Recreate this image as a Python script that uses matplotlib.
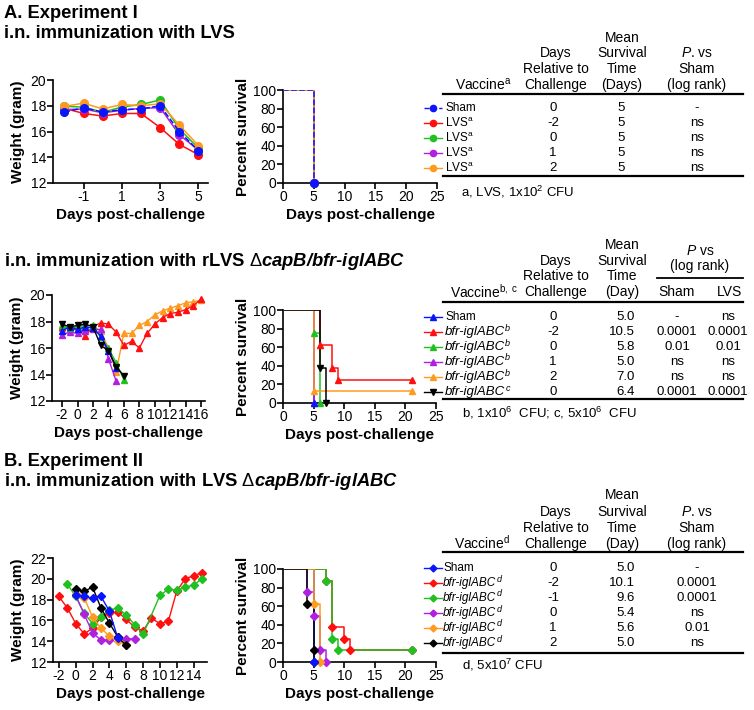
import matplotlib.pyplot as plt
from matplotlib.lines import Line2D

plt.rcParams['font.family'] = ['Liberation Sans', 'DejaVu Sans']
plt.rcParams['mathtext.fontset'] = 'custom'
plt.rcParams['mathtext.rm'] = 'Liberation Sans'
plt.rcParams['mathtext.it'] = 'Liberation Sans:italic'
plt.rcParams['mathtext.bf'] = 'Liberation Sans:bold'
plt.rcParams['mathtext.sf'] = 'Liberation Sans:bold:italic'
plt.rcParams['axes.unicode_minus'] = False

W, H = 754, 710
BLUE, RED, GREEN, PURPLE, ORANGE, BLACK = '#0a14ff', '#ff1010', '#20c020', '#b020e0', '#ff9a20', '#000000'
colors6 = [BLUE, RED, GREEN, PURPLE, ORANGE, BLACK]

# ---------------- data: experiment I, LVS ----------------
days_a = [-2, -1, 0, 1, 2, 3, 4, 5]
wa_sham = [17.5, 17.85, 17.5, 17.7, 17.75, 18.0, 16.0, 14.5]
wa_m2 = [17.8, 17.4, 17.2, 17.4, 17.4, 16.3, 15.0, 14.2]
wa_0 = [17.95, 17.9, 17.5, 17.9, 18.1, 18.45, 16.2, 14.7]
wa_1 = [17.7, 17.75, 17.45, 17.65, 17.8, 17.85, 15.75, 14.55]
wa_2 = [17.95, 18.2, 17.75, 18.1, 18.0, 18.15, 16.5, 14.9]
sa_times = [[5], [5], [5], [5], [5]]
sa_surv = [[0], [0], [0], [0], [0]]
tab_a_names = ['Sham', 'LVS$^{\\mathrm{a}}$', 'LVS$^{\\mathrm{a}}$', 'LVS$^{\\mathrm{a}}$', 'LVS$^{\\mathrm{a}}$']
tab_a_days = ['0', '-2', '0', '1', '2']
tab_a_mst = ['5', '5', '5', '5', '5']
tab_a_p = ['-', 'ns', 'ns', 'ns', 'ns']

# ---------------- data: experiment I, rLVS capB/bfr-iglABC ----------------
days_b_long = list(range(-2, 17))
days_b_short = list(range(-2, 6))
days_b_six = list(range(-2, 7))
wb_sham = [17.3, 17.6, 17.4, 17.6, 17.5, 16.9, 15.8, 14.5]
wb_m2 = [17.6, 17.4, 17.4, 16.9, 17.6, 17.9, 17.8, 17.2, 16.2, 16.5, 16.0, 17.1,
         17.8, 18.3, 18.6, 18.7, 18.9, 19.2, 19.7]
wb_0 = [17.7, 17.5, 17.6, 17.7, 17.7, 16.8, 16.0, 14.9, 13.6]
wb_1 = [17.0, 17.2, 17.1, 17.3, 17.4, 17.4, 15.2, 13.5]
wb_2 = [17.5, 17.6, 17.5, 17.5, 17.6, 17.3, 16.0, 14.2, 17.1, 17.1, 17.7, 18.0,
        18.5, 18.8, 19.0, 19.2, 19.4, 19.5, 19.6]
wb_0c = [17.8, 17.6, 17.7, 17.8, 17.6, 16.2, 15.8, 14.6, 13.9]
sb_times = [[5], [6, 8, 9, 21], [5, 6], [5], [5, 21], [6, 7]]
sb_surv = [[0], [62.5, 37.5, 25, 25], [75, 0], [0], [12.5, 12.5], [37.5, 0]]
tab_b_names = ['Sham'] + ['bfr-iglABC'] * 5
tab_b_sups = ['', 'b', 'b', 'b', 'b', 'c']
tab_b_days = ['0', '-2', '0', '1', '2', '0']
tab_b_mst = ['5.0', '10.5', '5.8', '5.0', '7.0', '6.4']
tab_b_psham = ['-', '0.0001', '0.01', 'ns', 'ns', '0.0001']
tab_b_plvs = ['ns', '0.0001', '0.01', 'ns', 'ns', '0.0001']

# ---------------- data: experiment II ----------------
dc_m2 = list(range(-2, 16))
wc_m2 = [18.3, 17.2, 15.7, 14.7, 15.25, 16.3, 16.7, 16.8, 16.1, 15.35, 15.0, 16.2,
         15.7, 15.9, 18.8, 20.0, 20.3, 20.6]
dc_m1 = [-1, 0, 1, 2, 3, 4, 5, 6, 7, 8, 10, 11, 12, 13, 14, 15]
wc_m1 = [19.5, 18.3, 16.7, 15.7, 16.3, 17.0, 17.2, 16.5, 15.6, 14.65, 18.4, 19.0,
         18.9, 19.2, 19.4, 20.0]
dc_sham = [0, 1, 2, 3, 4, 5]
wc_sham = [18.4, 18.3, 18.15, 18.3, 16.9, 14.3]
dc_0 = [0, 1, 2, 3, 4, 5, 6, 7]
wc_0 = [18.4, 16.6, 14.8, 14.1, 14.1, 14.4, 14.25, 14.2]
dc_1 = [0, 1, 2, 3, 4, 5, 6]
wc_1 = [18.5, 18.2, 16.3, 15.25, 14.5, 14.0, 13.6]
dc_2 = [0, 1, 2, 3, 4, 5, 6]
wc_2 = [19.0, 18.8, 19.2, 17.2, 15.75, 14.4, 13.6]
sc_times = [[5], [7, 8, 10, 11, 21], [7, 8, 9, 21], [4, 5, 6, 7], [5, 6], [4, 5, 5]]
sc_surv = [[0], [87.5, 37.5, 25, 12.5, 12.5], [87.5, 25, 12.5, 12.5],
           [75, 50, 12.5, 0], [62.5, 0], [62.5, 12.5, 0]]
tab_c_names = ['Sham'] + ['bfr-iglABC'] * 5
tab_c_sups = ['', 'd', 'd', 'd', 'd', 'd']
tab_c_days = ['0', '-2', '-1', '0', '1', '2']
tab_c_mst = ['5.0', '10.1', '9.6', '5.4', '5.6', '5.0']
tab_c_p = ['-', '0.0001', '0.0001', 'ns', '0.01', 'ns']

fig = plt.figure(figsize=(W / 100, H / 100), dpi=100)
renderer = fig.canvas.get_renderer()


def px_axes(x0, x1, y_top, y_bot):
    ax = fig.add_axes([x0 / W, 1 - y_bot / H, (x1 - x0) / W, (y_bot - y_top) / H])
    ax.spines['top'].set_visible(False)
    ax.spines['right'].set_visible(False)
    for s in ['left', 'bottom']:
        ax.spines[s].set_linewidth(1.2)
    ax.tick_params(direction='out', length=4, width=1.2, labelsize=10, pad=1)
    ax.set_facecolor('none')
    return ax


def ftext(x, y, s, **kw):
    kw.setdefault('va', 'center')
    kw.setdefault('fontsize', 10)
    return fig.text(x / W, 1 - y / H, s, **kw)


def hline(x0, x1, y, lw=1.6):
    fig.add_artist(Line2D([x0 / W, x1 / W], [1 - y / H, 1 - y / H], color='black', lw=lw))


def legend_mark(x, y, color, marker, ms, ls='-'):
    fig.add_artist(Line2D([(x - 9) / W, (x + 9) / W], [1 - y / H, 1 - y / H],
                          color=color, lw=1, ls=ls))
    fig.add_artist(Line2D([x / W], [1 - y / H], color=color, marker=marker, ms=ms, lw=0))


def name_with_sup(x, y, name, sup, size, italic):
    t = ftext(x, y, name, fontsize=size, style='italic' if italic else 'normal')
    if sup:
        bb = t.get_window_extent(renderer)
        ftext(bb.x1, y - 4, sup, fontsize=6.5, style='italic')


def survival(ax, times, surv, cols, markers, ms, styles=None):
    n = len(times)
    for i in range(n):
        ls = styles[i] if styles else '-'
        xs = [0] + times[i]
        ys = [100] + surv[i]
        ax.step(xs, ys, where='post', color=cols[i], lw=1.1, ls=ls, zorder=3 + (ls != '-'))
        ax.plot(times[i], surv[i], ls='none', marker=markers[i], ms=ms, color=cols[i],
                zorder=6 if i == 0 else 5 + i * 0.01, clip_on=False)
    ax.set_xlim(0, 25)
    ax.set_ylim(0, 100)
    ax.set_xticks([0, 5, 10, 15, 20, 25])
    ax.set_yticks([0, 20, 40, 60, 80, 100])
    ax.set_ylabel('Percent survival', fontsize=11, fontweight='bold', labelpad=2)
    ax.set_xlabel('Days post-challenge', fontsize=11, fontweight='bold', labelpad=3)


TITLE = 13.2

# ================= Panel A =================
ftext(4, 13, 'A. Experiment I', fontsize=TITLE, fontweight='bold')
ftext(4, 33, 'i.n. immunization with LVS', fontsize=TITLE, fontweight='bold')

ax = px_axes(53, 208, 80, 183)
a_groups = [wa_sham, wa_m2, wa_0, wa_1, wa_2]
a_cols = [BLUE, RED, GREEN, PURPLE, ORANGE]
for k in [1, 3, 2, 4, 0]:
    ax.plot(days_a, a_groups[k], color=a_cols[k], lw=1.1, marker='o', ms=5.5,
            ls='--' if k == 0 else '-', clip_on=False, zorder=3 + (k == 0))
ax.set_xlim(-2.6, 5.5)
ax.set_ylim(12, 20)
ax.set_xticks([-1, 1, 3, 5])
ax.set_yticks([12, 14, 16, 18, 20])
ax.set_ylabel('Weight (gram)', fontsize=11, fontweight='bold', labelpad=4)
ax.set_xlabel('Days post-challenge', fontsize=11, fontweight='bold', labelpad=3)

ax = px_axes(283, 437, 90, 183)
survival(ax, sa_times, sa_surv, [BLUE, RED, GREEN, PURPLE, ORANGE], ['o'] * 5, 5.5,
         styles=['--', '-', '-', '-', '-'])

# table A
ftext(622, 38, 'Mean', ha='center')
for j, (a, b, c) in enumerate([('Days', 'Survival', '$\\mathit{P}$. vs'),
                               ('Relative to', 'Time', 'Sham'),
                               ('Challenge', '(Days)', '(log rank)')]):
    yy = 53 + 16 * j
    ftext(556, yy, a, ha='center')
    ftext(622, yy, b, ha='center')
    ftext(697, yy, c, ha='center')
ftext(512, 85, 'Vaccine$^{\\mathrm{a}}$', ha='right')
hline(443, 743, 94)
hline(443, 743, 176)
for i in range(5):
    yy = 108 + 15 * i
    legend_mark(433, yy, a_cols[i], 'o', 4.5, ls='--' if i == 0 else '-')
    ftext(445, yy, tab_a_names[i], fontsize=8.5)
    ftext(553, yy, tab_a_days[i], ha='center', fontsize=9.5)
    ftext(621, yy, tab_a_mst[i], ha='center', fontsize=9.5)
    ftext(697, yy, tab_a_p[i], ha='center', fontsize=9.5)
ftext(461, 192, 'a, LVS, 1x10$^{2}$ CFU', fontsize=9.5)

# ================= Panel A2 =================
ftext(4, 262, 'i.n. immunization with rLVS $\\Delta$$\\mathsf{capB/bfr}$-$\\mathsf{iglABC}$',
      fontsize=TITLE, fontweight='bold')

ax = px_axes(52, 205, 295, 401)
b_data = [(days_b_short, wb_sham), (days_b_long, wb_m2), (days_b_six, wb_0),
          (days_b_short, wb_1), (days_b_long, wb_2), (days_b_six, wb_0c)]
for k in [4, 1, 3, 2, 0, 5]:
    xs, ys = b_data[k]
    ax.plot(xs, ys, color=colors6[k], lw=1.0, marker='v' if k == 5 else '^', ms=5,
            clip_on=False, zorder=3)
ax.set_xlim(-3.3, 16.5)
ax.set_ylim(12, 20)
ax.set_xticks(list(range(-2, 17, 2)))
ax.set_yticks([12, 14, 16, 18, 20])
ax.set_ylabel('Weight (gram)', fontsize=11, fontweight='bold', labelpad=4)
ax.set_xlabel('Days post-challenge', fontsize=11, fontweight='bold', labelpad=3)

ax = px_axes(283, 436, 310, 403)
survival(ax, sb_times, sb_surv, colors6, ['^'] * 5 + ['v'], 5)

# table B
ftext(622, 245, 'Mean', ha='center')
ftext(556, 261, 'Days', ha='center')
ftext(622, 261, 'Survival', ha='center')
ftext(700, 251, '$\\mathit{P}$ vs', ha='center')
ftext(700, 266, '(log rank)', ha='center')
ftext(556, 276, 'Relative to', ha='center')
ftext(622, 276, 'Time', ha='center')
ftext(518, 292, 'Vaccine$^{\\mathrm{b,\\ c}}$', ha='right')
ftext(556, 292, 'Challenge', ha='center')
ftext(622, 292, '(Day)', ha='center')
ftext(677, 292, 'Sham', ha='center')
ftext(730, 292, 'LVS', ha='center')
hline(657, 743, 278, lw=1.3)
hline(443, 743, 302)
hline(443, 743, 399)
for i in range(6):
    yy = 317 + 15 * i
    legend_mark(433, yy, colors6[i], 'v' if i == 5 else '^', 4.5)
    name_with_sup(445, yy, tab_b_names[i], tab_b_sups[i], 8.5 if i == 0 else 9.5, i > 0)
    ftext(553, yy, tab_b_days[i], ha='center', fontsize=9.5)
    ftext(635, yy, tab_b_mst[i], ha='right', fontsize=9.5)
    ftext(677, yy, tab_b_psham[i], ha='center', fontsize=9.5)
    ftext(728, yy, tab_b_plvs[i], ha='center', fontsize=9.5)
ftext(462, 413, 'b, 1x10$^{6}$  CFU; c, 5x10$^{6}$  CFU', fontsize=9.5)

# ================= Panel B =================
ftext(4, 462, 'B. Experiment II', fontsize=TITLE, fontweight='bold')
ftext(4, 482, 'i.n. immunization with LVS $\\Delta$$\\mathsf{capB/bfr}$-$\\mathsf{iglABC}$',
      fontsize=TITLE, fontweight='bold')

ax = px_axes(53, 207, 558, 662)
c_data = [(dc_sham, wc_sham), (dc_m2, wc_m2), (dc_m1, wc_m1),
          (dc_0, wc_0), (dc_1, wc_1), (dc_2, wc_2)]
for k in [1, 2, 3, 4, 5, 0]:
    xs, ys = c_data[k]
    ax.plot(xs, ys, color=colors6[k], lw=1.0, marker='D', ms=4, clip_on=False, zorder=3)
ax.set_xlim(-2.7, 15.6)
ax.set_ylim(12, 22)
ax.set_xticks(list(range(-2, 15, 2)))
ax.set_yticks([12, 14, 16, 18, 20, 22])
ax.set_ylabel('Weight (gram)', fontsize=11, fontweight='bold', labelpad=4)
ax.set_xlabel('Days post-challenge', fontsize=11, fontweight='bold', labelpad=3)

ax = px_axes(283, 436, 569, 662)
survival(ax, sc_times, sc_surv, colors6, ['D'] * 6, 4)

# table C
ftext(622, 495, 'Mean', ha='center')
for j, (a, b, c) in enumerate([('Days', 'Survival', '$\\mathit{P}$. vs'),
                               ('Relative to', 'Time', 'Sham'),
                               ('Challenge', '(Day)', '(log rank)')]):
    yy = 512 + 16 * j
    ftext(556, yy, a, ha='center')
    ftext(622, yy, b, ha='center')
    ftext(697, yy, c, ha='center')
ftext(510, 543, 'Vaccine$^{\\mathrm{d}}$', ha='right')
hline(443, 743, 552)
hline(443, 743, 653)
for i in range(6):
    yy = 568 + 15 * i
    legend_mark(433, yy, colors6[i], 'D', 3.5)
    name_with_sup(443, yy, tab_c_names[i], tab_c_sups[i], 8.5, i > 0)
    ftext(553, yy, tab_c_days[i], ha='center', fontsize=9.5)
    ftext(635, yy, tab_c_mst[i], ha='right', fontsize=9.5)
    ftext(697, yy, tab_c_p[i], ha='center', fontsize=9.5)
ftext(462, 665, 'd, 5x10$^{7}$ CFU', fontsize=9.5)

fig.savefig('out.png', dpi=100)
